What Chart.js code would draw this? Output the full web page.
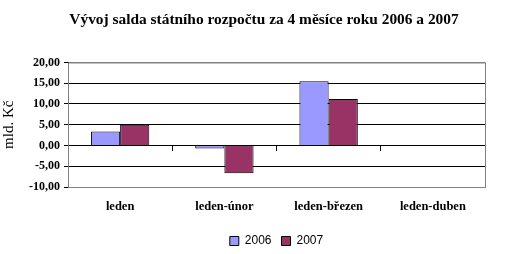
<!DOCTYPE html>
<html>
<head>
<meta charset="utf-8">
<script src="https://cdn.jsdelivr.net/npm/chart.js@4"></script>
<style>
  html, body { margin: 0; padding: 0; background: #fff; }
  #wrap { width: 515px; height: 254px; overflow: hidden; }
</style>
</head>
<body>
<div id="wrap"><canvas id="myChart" width="515" height="254"></canvas></div>
<script>
// data (mld. Kč)
var kategorie = ['leden', 'leden-únor', 'leden-březen', 'leden-duben'];
var rok2006 = [3.4, -0.7, 15.5, null];
var rok2007 = [5.0, -6.7, 11.2, null];
var yTicks = [-10, -5, 0, 5, 10, 15, 20];

var serif = "'Liberation Serif', 'Times New Roman', serif";

// gray frame round the plot area, title nudged a bit right like in the original
var ramecek = {
  id: 'ramecek',
  afterLayout: function (chart) {
    if (chart.titleBlock) { chart.titleBlock.left += 43; }
  },
  beforeDatasetsDraw: function (chart) {
    var a = chart.chartArea, ctx = chart.ctx;
    ctx.save();
    ctx.strokeStyle = '#808080';
    ctx.lineWidth = 1;
    ctx.strokeRect(a.left + 0.5, a.top + 0.5, a.right - a.left, a.bottom - a.top);
    ctx.restore();
  }
};

var graf = new Chart(document.getElementById('myChart').getContext('2d'), {
  type: 'bar',
  data: {
    labels: kategorie,
    datasets: [{
      label: '2006',
      data: rok2006,
      backgroundColor: '#9999FF',
      borderColor: '#000000',
      borderWidth: 1,
      categoryPercentage: 0.56,
      barPercentage: 1.0
    }, {
      label: '2007',
      data: rok2007,
      backgroundColor: '#993366',
      borderColor: '#000000',
      borderWidth: 1,
      categoryPercentage: 0.56,
      barPercentage: 1.0
    }]
  },
  options: {
    responsive: false,
    animation: false,
    layout: { padding: { left: 0, right: 30, top: 0, bottom: -3 } },
    plugins: {
      title: {
        display: true,
        text: 'Vývoj salda státního rozpočtu za 4 měsíce roku 2006 a 2007',
        color: '#000',
        font: { family: serif, size: 15.4, weight: 'bold' },
        padding: { top: 11, bottom: 33 }
      },
      legend: {
        position: 'bottom',
        fullSize: false,
        labels: {
          boxWidth: 9,
          boxHeight: 9,
          color: '#000',
          font: { family: "'Liberation Sans', Arial, sans-serif", size: 12 },
          padding: 10
        }
      },
      tooltip: { enabled: false }
    },
    scales: {
      x: {
        grid: { display: false },
        border: { display: false },
        ticks: {
          color: '#000',
          font: { family: serif, size: 12.5, weight: 'bold' },
          padding: 4
        },
        afterFit: function (s) { s.height = 38; }
      },
      x2: {
        type: 'category',
        position: { y: 0 },
        offset: true,
        grid: { offset: true, drawOnChartArea: false, drawTicks: true, tickLength: 5, color: '#000' },
        border: { display: true, color: '#000' },
        ticks: { display: false }
      },
      y: {
        min: -10,
        max: 20,
        afterBuildTicks: function (s) { s.ticks = yTicks.map(function (v) { return { value: v }; }); },
        grid: {
          color: function (c) { return (c.tick && (c.tick.value === 20 || c.tick.value === -10)) ? '#808080' : '#000000'; },
          tickColor: '#000',
          tickLength: 4
        },
        border: { display: true, color: '#000' },
        ticks: {
          color: '#000',
          font: { family: serif, size: 12, weight: 'bold' },
          padding: 4,
          callback: function (v) { return v.toFixed(2).replace('.', ','); }
        },
        title: {
          display: true,
          text: 'mld. Kč',
          color: '#000',
          font: { family: serif, size: 15 },
          padding: { top: 0, bottom: 2 }
        },
        afterFit: function (s) { s.width = 68; }
      }
    }
  },
  plugins: [ramecek]
});
</script>
</body>
</html>
